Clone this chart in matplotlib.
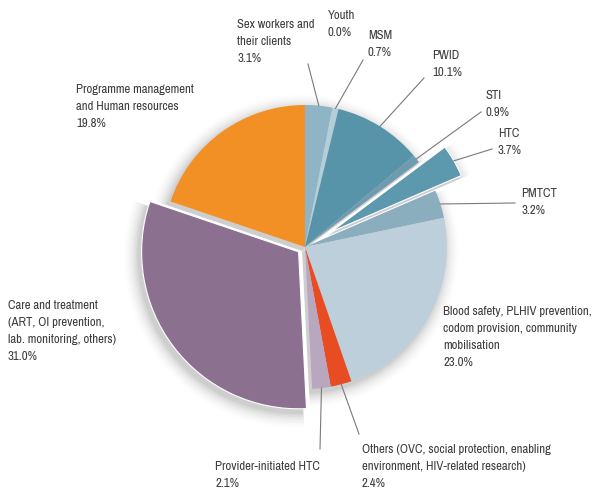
import numpy as np
import matplotlib
matplotlib.use("Agg")
import matplotlib.pyplot as plt
from matplotlib import font_manager

categories = [
    "Sex workers and\ntheir clients",
    "Youth",
    "MSM",
    "PWID",
    "STI",
    "HTC",
    "PMTCT",
    "Blood safety, PLHIV prevention,\ncodom provision, community\nmobilisation",
    "Others (OVC, social protection, enabling\nenvironment, HIV-related research)",
    "Provider-initiated HTC",
    "Care and treatment\n(ART, OI prevention,\nlab. monitoring, others)",
    "Programme management\nand Human resources",
]
values = [3.1, 0.0, 0.7, 10.1, 0.9, 3.7, 3.2, 23.0, 2.4, 2.1, 31.0, 19.8]
colors = ["#8fb4c6", "#c9dbe4", "#b3cdd9", "#5793a9", "#6f9bb0", "#5c98ae",
          "#8aaebe", "#bccfdb", "#e84c22", "#b9a6bf", "#8b7090", "#f29025"]

# layout (pixels, y from top)
W, H = 595, 495
CX, CY, R = 305, 247, 142
explode_px = [0, 0, 0, 0, 0, 30, 0, 0, 0, 0, 8, 0]
radius_px = [R] * 10 + [157, R]
label_pos = [
    (237, 19), (328, 10), (368, 30), (432, 50), (486, 90), (498, 128), (521, 188),
    (443, 306), (362, 444), (215, 461), (8, 300), (76, 84),
]
line_end = [
    (308, 64), None, (363, 60), (424, 78), (481, 112), (492, 149), (515, 203),
    None, (359, 434), (320, 449), None, None,
]

# choose a condensed font if available
fam = None
for pat in ("LiberationSansNarrow", "Narrow", "Condensed"):
    for f in font_manager.fontManager.ttflist:
        if pat in f.fname.replace(" ", "") and "Bold" not in f.fname and "Oblique" not in f.fname and "Italic" not in f.fname:
            fam = f
            break
    if fam:
        break
if fam is not None:
    fprop = font_manager.FontProperties(fname=fam.fname)
else:
    fprop = font_manager.FontProperties(family="DejaVu Sans")

fig = plt.figure(figsize=(W / 100, H / 100), dpi=100)
ax = fig.add_axes([0, 0, 1, 1])

# calibrate font size so the widest label line fits like the reference
probe = fig.text(0, 0, "Blood safety, PLHIV prevention,", fontproperties=fprop, fontsize=10)
fig.canvas.draw()
wpx = probe.get_window_extent().width
probe.remove()
fs = min(10.5, 10 * 149 / wpx)
fprop.set_size(fs)

# calibrate line spacing to ~18.5 px per line
probe = fig.text(0, 0, "A\nA", fontproperties=fprop, linespacing=1.0)
probe1 = fig.text(0, 0, "A", fontproperties=fprop)
fig.canvas.draw()
h2 = probe.get_window_extent().height
h1 = probe1.get_window_extent().height
probe.remove()
probe1.remove()
base = max(h2 - h1, 1.0)
lsp = 18.5 / base

ax.set_xlim(0, W)
ax.set_ylim(0, H)
ax.set_aspect("equal")
ax.axis("off")

center = (CX, H - CY)

# soft shadow
for k in range(10):
    a = 0.035 * (1 - k / 10)
    sw, _ = ax.pie(values, radius=R + 1 + k * 1.6, center=(center[0] - 3, center[1] - 4),
                   startangle=90, counterclock=False, explode=explode_px,
                   colors=["#000000"] * len(values),
                   wedgeprops=dict(alpha=a, linewidth=0), frame=True)
    for i, w in enumerate(sw):
        w.set_radius(radius_px[i] + 1 + k * 1.6)
        w.set_zorder(1)

wedges, _ = ax.pie(values, radius=R, center=center, startangle=90,
                   counterclock=False, explode=explode_px, colors=colors,
                   wedgeprops=dict(linewidth=0), frame=True)
for i, w in enumerate(wedges):
    w.set_radius(radius_px[i])
    w.set_zorder(3)
    if explode_px[i] > 0:
        w.set_edgecolor("white")
        w.set_linewidth(0.8)
        w.set_zorder(4)

ax.set_xlim(0, W)
ax.set_ylim(0, H)
ax.axis("off")

for i, (lab, v) in enumerate(zip(categories, values)):
    x, y = label_pos[i]
    ax.text(x, H - y, f"{lab}\n{v:.1f}%", ha="left", va="top", fontproperties=fprop,
            color="#3c3c3c", linespacing=lsp, zorder=6)
    if line_end[i] is not None:
        w = wedges[i]
        th = np.deg2rad((w.theta1 + w.theta2) / 2)
        wx, wy = w.center
        sx, sy = wx + w.r * np.cos(th), wy + w.r * np.sin(th)
        ex, ey = line_end[i]
        ax.plot([sx, ex], [sy, H - ey], color="#7a7a7a", lw=0.8, zorder=5)

fig.savefig("out.png", dpi=100)
